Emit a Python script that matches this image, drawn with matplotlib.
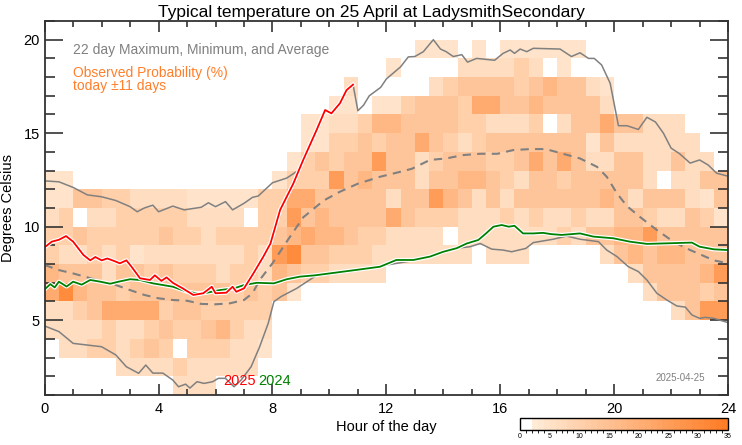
import numpy as np
import matplotlib
matplotlib.use("Agg")
import matplotlib.pyplot as plt
import matplotlib.patheffects as pe
from matplotlib.colors import ListedColormap, BoundaryNorm
from matplotlib.ticker import MultipleLocator

plt.rcParams['font.family'] = ['Liberation Sans', 'DejaVu Sans']

#######################################################
# data
#######################################################

# probability (%) per 1 degree bin and half hour, coded by one digit per cell
# row order: top bin (20-21 C) first, groups of 8 cells = 4 hours
code_pct = [0, 4, 6, 10, 13, 17, 21, 25, 30, 33]
prob_rows = [
    "00000000 00000000 00000000 00000000 00000000 00000000",  # 20-21
    "00000000 00000000 00000000 00111010 11111100 00000000",  # 19-20
    "00000000 00000000 00000000 10000222 23201000 00000000",  # 18-19
    "00000000 00000000 00000200 00023444 43454421 00000000",  # 17-18
    "00000000 00000000 00001101 13444366 44544442 00000000",  # 16-17
    "00000000 00000000 00112235 54444332 22302446 44222000",  # 15-16
    "00000000 00000000 00113343 44643234 44444414 22222200",  # 14-15
    "00000000 00000000 01343447 44234443 34646422 44224220",  # 13-14
    "11000000 00000000 13337454 44244554 32443444 44202244",  # 12-13
    "11443322 22111113 36644444 24475424 24444445 42444214",  # 11-12
    "23022333 33222203 37454444 64333222 32322322 44322431",  # 10-11
    "33433333 43323333 45655433 22220222 22223244 55744444",  # 9-10
    "32232312 22222232 78443332 22222202 22000002 45455444",  # 8-9
    "54442443 43332332 54332222 00000000 00000000 02444457",  # 7-8
    "68544344 44444343 41000000 00000000 00000000 00244434",  # 6-7
    "22346666 34433333 00000000 00000000 00000000 00002477",  # 5-6
    "22223223 43345322 00000000 00000000 00000000 00000000",  # 4-5
    "02233234 30333221 00000000 00000000 00000000 00000000",  # 3-4
    "00000222 23222220 00000000 00000000 00000000 00000000",  # 2-3
    "00000000 02220000 00000000 00000000 00000000 00000000",  # 1-2
]

max_hours = [0, 0.5, 1.0, 1.5, 2.0, 2.5, 3.0, 3.25, 3.5, 3.8, 4.0, 4.5, 4.9, 5.5,
             5.75, 6.0, 6.35, 6.6, 7.0, 7.3, 7.5, 8.0, 8.5, 8.9, 9.08, 9.55, 9.85,
             10.07, 10.37, 10.6, 10.83, 11.0, 11.2, 11.4, 11.8, 12.0, 12.5, 12.77,
             13.0, 13.3, 13.65, 13.9, 14.1, 14.35, 14.65, 14.85, 15.17, 15.8, 16.1,
             16.35, 16.5, 16.7, 16.93, 17.16, 18.1, 18.5, 18.8, 19.1, 19.3, 19.56,
             19.86, 20.15, 20.45, 20.85, 21.15, 21.45, 21.73, 22.0, 22.3, 22.67,
             23.0, 23.3, 23.6, 24.0]
max_temps = [12.45, 12.4, 12.1, 11.7, 11.6, 11.4, 11.07, 10.8, 11.0, 11.15, 10.8,
             11.1, 10.9, 11.04, 11.28, 11.07, 11.34, 10.9, 11.25, 11.57, 11.64,
             12.35, 12.6, 13.0, 13.57, 15.17, 16.24, 16.06, 16.6, 17.3, 17.6, 16.2,
             16.5, 17.0, 17.45, 17.9, 18.55, 19.08, 19.1, 19.36, 20.0, 19.5, 19.36,
             19.1, 19.2, 18.8, 19.0, 18.9, 19.27, 19.45, 19.27, 19.5, 19.36, 19.54,
             19.5, 19.1, 19.3, 19.0, 19.0, 18.65, 17.67, 15.4, 15.4, 15.2, 15.85,
             15.6, 15.0, 14.2, 13.9, 13.4, 13.57, 13.3, 12.86, 12.7]

min_hours = [0, 0.5, 1.0, 1.5, 2.0, 2.5, 2.87, 3.3, 3.55, 3.8, 4.15, 4.5, 4.7, 4.95,
             5.1, 5.35, 5.6, 5.9, 6.1, 6.35, 6.65, 6.9, 7.25, 7.55, 7.85, 8.05, 8.3,
             8.85, 9.1, 9.5, 10.0, 11.0, 12.0, 13.0, 14.0, 14.47, 14.94, 15.3, 15.7,
             16.1, 16.4, 16.9, 17.16, 17.86, 18.33, 18.8, 19.45, 19.74, 20.1, 20.5,
             20.85, 21.15, 21.5, 21.85, 22.2, 22.5, 22.73, 23.0, 23.2, 23.5, 24.0]
min_temps = [4.69, 4.39, 3.76, 3.67, 3.58, 3.14, 2.51, 2.16, 2.6, 2.17, 2.17, 1.8,
             1.44, 1.58, 1.37, 1.71, 1.62, 1.71, 1.89, 1.89, 1.44, 1.8, 2.51, 3.58,
             4.83, 5.99, 6.26, 6.7, 6.95, 7.35, 7.45, 7.65, 7.95, 8.2, 8.6, 8.85,
             8.93, 9.1, 8.8, 8.75, 8.66, 8.84, 9.15, 9.33, 9.5, 9.33, 9.2, 8.75, 8.4,
             7.86, 7.6, 7.15, 6.44, 6.08, 5.76, 5.7, 5.28, 5.1, 5.15, 5.1, 4.87]

avg_hours = [0, 0.5, 1.0, 1.5, 2.0, 2.5, 3.0, 3.5, 4.0, 4.5, 5.0, 5.5, 6.0, 6.5, 7.0,
             7.3, 7.55, 8.0, 8.5, 9.08, 9.8, 10.37, 11.0, 11.78, 12.5, 12.9, 13.53,
             14.1, 14.7, 15.3, 15.9, 16.46, 17.05, 17.6, 18.2, 18.8, 19.4, 19.74,
             20.1, 20.45, 20.9, 21.5, 22.08, 22.67, 23.2, 23.5, 24.0]
avg_temps = [7.95, 7.68, 7.5, 7.29, 7.06, 6.88, 6.61, 6.35, 6.17, 6.08, 6.04, 5.87,
             5.85, 5.9, 6.08, 6.44, 7.15, 8.04, 9.2, 10.5, 11.4, 11.87, 12.3, 12.67,
             12.94, 13.1, 13.57, 13.65, 13.83, 13.9, 13.9, 14.1, 14.15, 14.15, 13.9,
             13.65, 13.2, 12.67, 11.78, 11.1, 10.53, 9.82, 9.2, 8.75, 8.4, 8.2, 8.04]

y2024_hours = [0, 0.2, 0.35, 0.5, 0.77, 1.0, 1.3, 1.6, 1.95, 2.3, 2.6, 3.0, 3.35, 3.8,
               4.5, 5.0, 5.35, 5.7, 6.15, 6.65, 7.0, 7.45, 8.05, 8.5, 8.97, 9.5, 10.0,
               10.5, 11.0, 11.78, 12.35, 12.95, 13.53, 14.0, 14.47, 14.82, 15.23,
               15.5, 15.76, 16.05, 16.3, 16.5, 16.8, 17.16, 17.5, 17.8, 18.16, 18.8,
               19.27, 19.97, 20.55, 21.15, 21.85, 22.73, 23.0, 23.5, 24.0]
y2024_temps = [6.65, 6.93, 6.75, 7.06, 6.8, 7.06, 6.9, 7.15, 7.06, 6.95, 7.06, 7.19,
               7.15, 6.97, 6.79, 6.52, 6.44, 6.47, 6.61, 6.7, 6.88, 7.0, 6.97, 7.19,
               7.33, 7.4, 7.5, 7.6, 7.7, 7.86, 8.22, 8.22, 8.4, 8.66, 8.85, 9.1, 9.29,
               9.64, 10.0, 10.09, 10.0, 10.05, 9.64, 9.64, 9.67, 9.6, 9.56, 9.64, 9.47,
               9.38, 9.2, 9.08, 9.11, 9.15, 8.93, 8.79, 8.75]

y2025_hours = [0, 0.25, 0.5, 0.75, 1.0, 1.36, 1.6, 1.78, 2.0, 2.2, 2.45, 2.64, 2.87,
               3.05, 3.35, 3.7, 3.87, 4.1, 4.28, 4.5, 4.85, 5.22, 5.57, 5.87, 6.0,
               6.38, 6.6, 6.73, 7.0, 7.33, 7.68, 7.93, 8.27, 8.73, 9.08, 9.55, 9.85,
               10.07, 10.37, 10.6, 10.83]
y2025_temps = [8.9, 9.2, 9.3, 9.5, 9.2, 8.49, 8.2, 8.38, 8.2, 8.3, 8.16, 8.04, 8.2,
               7.86, 7.24, 7.15, 7.4, 7.1, 7.29, 7.0, 6.7, 6.35, 6.44, 6.79, 6.44,
               6.47, 6.79, 6.52, 6.7, 7.5, 8.4, 9.1, 10.9, 12.3, 13.57, 15.17, 16.24,
               16.06, 16.6, 17.3, 17.6]

#######################################################
# colour scale: white below 2 %, then cream to orange
#######################################################

lo = np.array([255, 235, 214]) / 255.0
hi = np.array([255, 125, 38]) / 255.0
cols = []
for i in range(35):
    if i < 2:
        cols.append((1, 1, 1))
    else:
        f = (i - 2) / 32.0
        cols.append(tuple(lo + (hi - lo) * f))
cmap = ListedColormap(cols)
norm = BoundaryNorm(np.arange(0, 36), 35)

grid = np.array([[code_pct[int(c)] for c in r.replace(" ", "")]
                 for r in prob_rows[::-1]], dtype=float)
grid = np.ma.masked_where(grid == 0, grid)
x_edges = np.arange(0, 24.01, 0.5)
y_edges = np.arange(1, 22)

#######################################################
# figure
#######################################################

fig = plt.figure(figsize=(7.42, 4.45), dpi=100)
ax = fig.add_axes([0.0602, 0.1124, 0.9210, 0.8404])

mesh = ax.pcolormesh(x_edges, y_edges, grid, cmap=cmap, norm=norm)

halo = [pe.Stroke(linewidth=3.0, foreground='white'), pe.Normal()]
ax.plot(max_hours, max_temps, color='#808080', lw=1.1)
ax.plot(min_hours, min_temps, color='#808080', lw=1.1)
ax.plot(avg_hours, avg_temps, color='#808080', lw=1.5, ls=(0, (4, 3)))
ax.plot(y2024_hours, y2024_temps, color='#008000', lw=1.3, path_effects=halo)
ax.plot(y2025_hours, y2025_temps, color='#ff0000', lw=1.3, path_effects=halo)

ax.set_xlim(0, 24)
ax.set_ylim(1, 21)
ax.xaxis.set_major_locator(MultipleLocator(4))
ax.xaxis.set_minor_locator(MultipleLocator(1))
ax.yaxis.set_major_locator(MultipleLocator(5))
ax.yaxis.set_minor_locator(MultipleLocator(1))
ax.tick_params(which='both', direction='in', top=True, right=True,
               colors='#333333', labelcolor='black', labelsize=10.5, width=1.2)
ax.tick_params(axis='y', which='major', length=13)
ax.tick_params(axis='y', which='minor', length=7)
ax.tick_params(axis='x', which='major', length=8)
ax.tick_params(axis='x', which='minor', length=4)
ax.tick_params(axis='x', pad=5)
for s in ax.spines.values():
    s.set_color('#333333')
    s.set_linewidth(1.3)

ax.set_xlabel("Hour of the day", fontsize=10.5, labelpad=3)
ax.set_ylabel("Degrees Celsius", fontsize=10.5, labelpad=6)
fig.suptitle("Typical temperature on 25 April at LadysmithSecondary",
             x=0.5, y=0.988, fontsize=12.5)

ax.text(1.0, 19.45, "22 day Maximum, Minimum, and Average", color='#808080',
        fontsize=10, va='center')
ax.text(1.0, 18.2, "Observed Probability (%)", color='#ff7f2a',
        fontsize=10, va='center')
ax.text(1.0, 17.5, "today \u00b111 days", color='#ff7f2a',
        fontsize=10, va='center')
ax.text(6.27, 1.53, "2025", color='#ff0000', fontsize=10.5, va='baseline')
ax.text(7.5, 1.53, "2024", color='#008000', fontsize=10.5, va='baseline')
ax.text(23.2, 1.9, "2025-04-25", color='#808080', fontsize=7,
        ha='right', va='center')

cax = fig.add_axes([0.7008, 0.0337, 0.2800, 0.027])
cb = fig.colorbar(mesh, cax=cax, orientation='horizontal',
                  ticks=np.arange(0, 36, 5))
cb.ax.tick_params(labelsize=5, length=0, pad=2)
cb.outline.set_linewidth(1.0)
cb.outline.set_edgecolor('black')

fig.savefig("out.png", dpi=100)
